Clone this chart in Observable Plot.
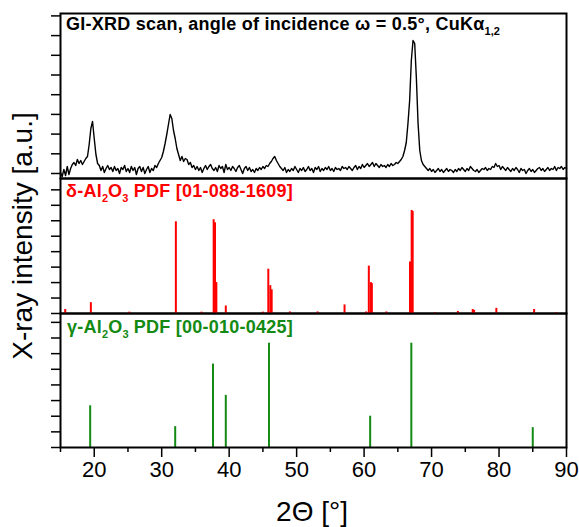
<!DOCTYPE html>
<html><head><meta charset="utf-8">
<script src="https://cdn.jsdelivr.net/npm/d3@7"></script>
<script src="https://cdn.jsdelivr.net/npm/@observablehq/plot@0.6"></script>
<style>
body{margin:0;background:#fff;font-family:"Liberation Sans",Arial,sans-serif;}
#wrap{position:relative;width:579px;height:527px;overflow:hidden;background:#fff;}
#wrap svg{position:absolute;left:0;overflow:visible;}
.lbl{position:absolute;font-weight:bold;white-space:nowrap;font-size:18px;letter-spacing:0.25px;line-height:1;}
.lbl sub{font-size:11px;vertical-align:-5px;line-height:0;letter-spacing:0;}
.ax{position:absolute;white-space:nowrap;font-size:28px;line-height:1;color:#000;}
</style></head><body><div id="wrap"></div>
<script>
// GI-XRD scan: 2θ from 15° to 90° in steps of 0.25°, one row per degree (.00 .25 .50 .75)
const scanStart = 15, scanStep = 0.25;
const scanIntensity = [
  6, 2, 9, 3,        // 15
  12, 4, 10, 14,     // 16
  16, 13, 19, 15,    // 17
  18, 14, 17, 20,    // 18
  22, 34, 50, 57,    // 19
  40, 24, 15, 13,    // 20
  8, 12, 6, 10,      // 21
  13, 9, 11, 7,      // 22
  12, 8, 10, 5,      // 23
  11, 9, 13, 7,      // 24
  10, 6, 12, 8,      // 25
  11, 4, 10, 12,     // 26
  7, 11, 5, 9,       // 27
  12, 6, 10, 8,      // 28
  13, 11, 15, 18,    // 29
  21, 27, 35, 44,    // 30
  54, 64, 60, 48,    // 31
  40, 30, 24, 18,    // 32
  22, 17, 20, 19,    // 33
  14, 16, 11, 13,    // 34
  9, 12, 8, 11,      // 35
  6, 10, 13, 9,      // 36
  12, 14, 10, 8,     // 37
  11, 7, 13, 10,     // 38
  12, 6, 14, 9,      // 39
  11, 8, 12, 10,     // 40
  7, 11, 13, 9,      // 41
  5, 10, 12, 8,      // 42
  11, 7, 9, 6,       // 43
  10, 8, 11, 9,      // 44
  12, 10, 13, 12,    // 45
  15, 17, 20, 22,    // 46
  18, 15, 12, 10,    // 47
  8, 11, 6, 9,       // 48
  7, 10, 8, 12,      // 49
  9, 6, 10, 8,       // 50
  11, 7, 9, 12,      // 51
  8, 10, 6, 11,      // 52
  9, 12, 7, 10,      // 53
  8, 11, 9, 12,      // 54
  8, 10, 7, 11,      // 55
  9, 10, 8, 12,      // 56
  10, 11, 9, 12,     // 57
  10, 8, 11, 13,     // 58
  9, 12, 10, 14,     // 59
  11, 13, 15, 12,    // 60
  14, 16, 12, 15,    // 61
  13, 11, 14, 12,    // 62
  13, 11, 14, 12,    // 63
  15, 13, 14, 16,    // 64
  15, 17, 19, 22,    // 65
  28, 36, 55, 78,    // 66
  118, 138, 135, 100,// 67
  55, 28, 18, 14,    // 68
  12, 10, 8, 10,     // 69
  7, 9, 6, 8,        // 70
  10, 7, 9, 6,       // 71
  8, 10, 7, 9,       // 72
  8, 6, 9, 7,        // 73
  10, 8, 11, 9,      // 74
  7, 10, 8, 12,      // 75
  10, 8, 7, 9,       // 76
  6, 8, 10, 9,       // 77
  11, 8, 10, 9,      // 78
  12, 11, 15, 12,    // 79
  13, 9, 12, 10,     // 80
  8, 11, 9, 7,       // 81
  10, 8, 11, 9,      // 82
  6, 10, 8, 9,       // 83
  5, 8, 10, 7,       // 84
  9, 6, 8, 10,       // 85
  11, 8, 10, 7,      // 86
  9, 11, 8, 10,      // 87
  9, 12, 8, 11,      // 88
  10, 12, 9, 11,     // 89
  10                 // 90
];

// δ-Al2O3 PDF [01-088-1609] stick pattern (2θ, relative intensity)
const deltaAngles = [15.7, 19.5, 25.2, 32.1, 35.9, 37.7, 37.9, 38.1, 39.5, 45.0, 45.8, 46.1, 46.3, 49.0, 53.1, 57.1, 60.3, 60.7, 61.0, 61.15, 63.3, 66.8, 67.05, 67.2, 70.5, 73.9, 76.1, 76.3, 79.6, 85.2, 88.5];
const deltaIntensity = [3.9, 10.5, 1.3, 89, 1.3, 91, 88, 30, 7.3, 1.3, 43, 27, 23, 1.5, 1.5, 8.3, 1.5, 46, 30, 29, 1.5, 50, 100, 99, 0.8, 2, 3.9, 3, 5, 3.9, 0.8];

// γ-Al2O3 PDF [00-010-0425] stick pattern
const gammaAngles = [19.4, 32.0, 37.6, 39.5, 45.9, 60.9, 67.0, 85.0];
const gammaIntensity = [40, 20, 80, 50, 100, 30, 100, 19];

const xMajorTicks = [20, 30, 40, 50, 60, 70, 80, 90];
const xMinorTicks = [15, 25, 35, 45, 55, 65, 75, 85];
const topYTicks = [5, 24.7, 44.4, 64.1, 83.8, 103.5, 123.2, 142.9, 162.6];
const midYTicks = [0, 15, 30, 45, 60, 75, 90, 105, 120];
const botYTicks = [0, 15, 30, 45, 60, 75, 90, 105, 120];

const scan = scanIntensity.map((v, i) => ({a: scanStart + i * scanStep, v}));
const delta = deltaAngles.map((a, i) => ({a, v: deltaIntensity[i]}));
const gamma = gammaAngles.map((a, i) => ({a, v: gammaIntensity[i]}));

const common = {
  width: 579, marginLeft: 60, marginRight: 13,
  style: {background: "transparent", overflow: "visible", color: "#000"}
};
const yTickAxis = (ticks) => Plot.axisY({ticks, tickSize: 9, tickFormat: () => "", label: null, strokeWidth: 1.5});

const panelTop = Plot.plot({
  ...common, height: 178, marginTop: 13, marginBottom: 0,
  x: {domain: [15, 90], axis: null},
  y: {domain: [0, 165], axis: null},
  marks: [
    yTickAxis(topYTicks),
    Plot.line(scan, {x: "a", y: "v", stroke: "#000", strokeWidth: 1.4}),
    Plot.frame({stroke: "#000", strokeWidth: 2})
  ]
});
const panelMid = Plot.plot({
  ...common, height: 135, marginTop: 0, marginBottom: 0,
  x: {domain: [15, 90], axis: null},
  y: {domain: [0, 131], axis: null},
  marks: [
    yTickAxis(midYTicks),
    Plot.ruleX(delta, {x: "a", y1: 0, y2: "v", stroke: "#ff0000", strokeWidth: 2}),
    Plot.frame({stroke: "#000", strokeWidth: 2})
  ]
});
const panelBot = Plot.plot({
  ...common, height: 214, marginTop: 0, marginBottom: 80,
  x: {domain: [15, 90], axis: null},
  y: {domain: [0, 128.5], axis: null},
  marks: [
    yTickAxis(botYTicks),
    Plot.axisX({ticks: xMinorTicks, tickSize: 5, tickFormat: () => "", label: null, strokeWidth: 1.5}),
    Plot.axisX({ticks: xMajorTicks, tickSize: 10, tickPadding: 4, fontSize: 22, label: null, strokeWidth: 1.5, fontFamily: "Liberation Sans, Arial, sans-serif"}),
    Plot.ruleX(gamma, {x: "a", y1: 0, y2: "v", stroke: "#138a13", strokeWidth: 2}),
    Plot.frame({stroke: "#000", strokeWidth: 2})
  ]
});

const wrap = document.getElementById("wrap");
panelTop.style.top = "0px"; panelMid.style.top = "178px"; panelBot.style.top = "313px";
wrap.append(panelBot, panelMid, panelTop);

function addLabel(html, cls, css) {
  const d = document.createElement("div");
  d.className = cls; d.innerHTML = html;
  Object.assign(d.style, css);
  wrap.append(d);
  return d;
}
addLabel("GI-XRD scan, angle of incidence ω = 0.5°, CuKα<sub>1,2</sub>", "lbl", {left: "66px", top: "15px", color: "#000"});
addLabel("δ-Al<sub>2</sub>O<sub>3</sub> PDF [01-088-1609]", "lbl", {left: "66px", top: "182px", color: "#ff0000"});
addLabel("γ-Al<sub>2</sub>O<sub>3</sub> PDF [00-010-0425]", "lbl", {left: "67px", top: "318px", color: "#138a13"});
addLabel("2Θ [°]", "ax", {left: "312px", top: "498px", transform: "translateX(-50%)"});
addLabel("X-ray intensity [a.u.]", "ax", {left: "23px", top: "236px", transform: "translate(-50%,-50%) rotate(-90deg)"});
</script></body></html>
